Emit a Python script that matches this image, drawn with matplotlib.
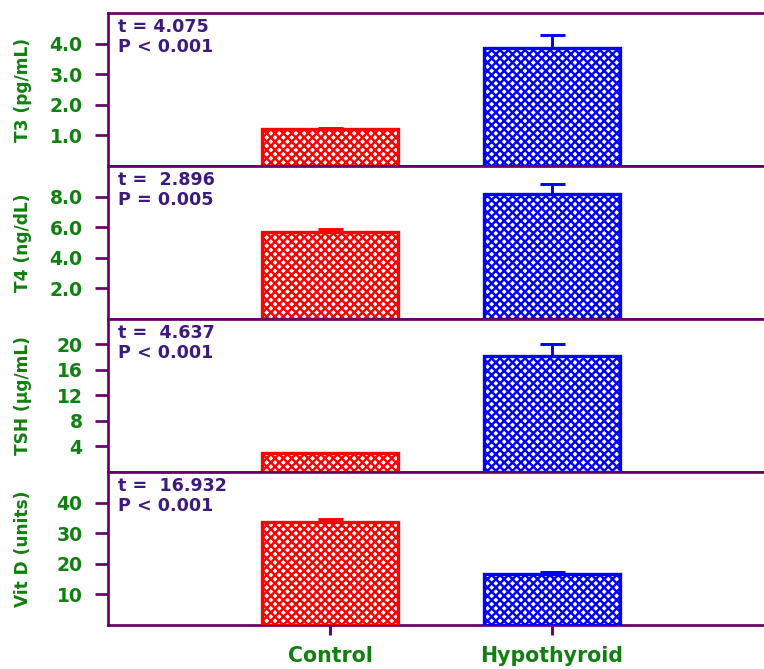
import numpy as np
import matplotlib.pyplot as plt

groups = ["Control", "Hypothyroid"]
bar_colors = ["#ff0000", "#0000ff"]

t3_mean = [1.2, 3.85]
t3_err = [0.05, 0.42]
t4_mean = [5.67, 8.2]
t4_err = [0.2, 0.63]
tsh_mean = [2.95, 18.15]
tsh_err = [0.1, 2.0]
vitd_mean = [33.7, 16.5]
vitd_err = [0.9, 0.8]

ylabels = ["T3 (pg/mL)", "T4 (ng/dL)", "TSH (\u00b5g/mL)", "Vit D (units)"]
stats = ["t = 4.075\nP < 0.001",
         "t =  2.896\nP = 0.005",
         "t =  4.637\nP < 0.001",
         "t =  16.932\nP < 0.001"]
ymax = [5, 10, 24, 50]
yticks = [[1, 2, 3, 4], [2, 4, 6, 8], [4, 8, 12, 16, 20], [10, 20, 30, 40]]
yfmt = ["{:.1f}", "{:.1f}", "{:d}", "{:d}"]

PURPLE = "#660066"
GREEN = "#108010"
TEXT = "#3d1a7d"
DPI = 75

plt.rcParams['font.family'] = ['DejaVu Sans']
plt.rcParams['font.weight'] = 'bold'
plt.rcParams['hatch.linewidth'] = 2.3


def draw_panel(ax, means, errs, idx, last):
    x = np.arange(len(groups))
    ax.bar(x, means, width=0.61, color="white", edgecolor=bar_colors,
           hatch="xxx", linewidth=3.2, zorder=3)
    for i in x:
        ax.errorbar(x[i], means[i], yerr=[[0], [errs[i]]], fmt="none",
                    ecolor=bar_colors[i], elinewidth=2.8, capsize=12,
                    capthick=2.8, zorder=2)
    ax.set_xlim(-1.0, 1.955)
    ax.set_ylim(0, ymax[idx])
    ax.set_yticks(yticks[idx])
    ax.set_yticklabels([yfmt[idx].format(v) for v in yticks[idx]])
    ax.tick_params(axis="y", direction="out", length=12.5, width=2.6,
                   color=PURPLE, labelcolor=GREEN, labelsize=18, pad=12)
    ax.set_ylabel(ylabels[idx], color=GREEN, fontsize=16.3,
                  fontweight="bold", va="center")
    ax.yaxis.set_label_coords(-0.13, 0.5)
    for s in ["left", "top", "bottom"]:
        ax.spines[s].set_color(PURPLE)
        ax.spines[s].set_linewidth(2.6)
    ax.spines["right"].set_visible(False)
    ax.text(0.015, 0.965, stats[idx], transform=ax.transAxes, ha="left",
            va="top", color=TEXT, fontsize=16.8, fontweight="bold",
            linespacing=1.12)
    if last:
        ax.set_xticks(x)
        ax.set_xticklabels(groups)
        ax.tick_params(axis="x", direction="out", length=10, width=2.8,
                       color=PURPLE, labelcolor=GREEN, labelsize=19.7, pad=10)
    else:
        ax.tick_params(axis="x", bottom=False, labelbottom=False)


fig, axes = plt.subplots(4, 1, figsize=(764 / DPI, 669 / DPI), dpi=DPI)
fig.subplots_adjust(left=0.1414, right=1.0, top=0.9806, bottom=0.0658,
                    hspace=0)

data = [(t3_mean, t3_err), (t4_mean, t4_err),
        (tsh_mean, tsh_err), (vitd_mean, vitd_err)]
for k, (m, e) in enumerate(data):
    draw_panel(axes[k], m, e, k, k == len(data) - 1)

fig.savefig("out.png", dpi=DPI)
